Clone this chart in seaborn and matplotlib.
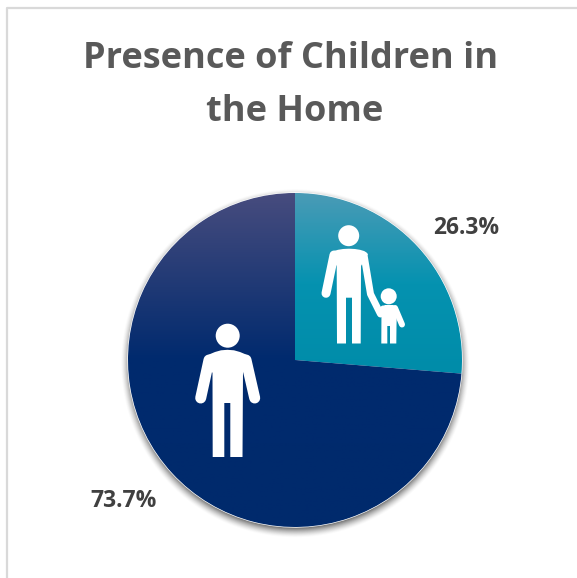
import numpy as np
import matplotlib
matplotlib.use("Agg")
import matplotlib.pyplot as plt
from matplotlib.colors import LinearSegmentedColormap
from matplotlib.patches import Circle, Polygon
from matplotlib.lines import Line2D
import seaborn as sns

# Survey shares, clockwise from twelve o'clock
categories = ["Children in home", "No children in home"]
shares = [26.3, 73.7]
title_lines = ["Presence of Children in", "the Home"]

# Vertical gradient stops for each slice: top, middle, bottom
teal_stops = ["#4a9bb6", "#0592b0", "#008ca9"]
navy_stops = ["#474c7e", "#002a6e", "#002a6c"]

W, H = 577, 578
CX, CY, R = 295, 360, 167
WHITE = "#ffffff"

sns.set_theme(style="white")
plt.rcParams["font.family"] = ["Open Sans", "DejaVu Sans"]

fig = plt.figure(figsize=(W / 100, H / 100), dpi=100, facecolor="white")
ax = fig.add_axes([0, 0, 1, 1])

# Soft drop shadow: a dark disc whose opacity fades over a few pixels
gx, gy = np.meshgrid(np.arange(CX - R - 14, CX + R + 15, 0.5),
                     np.arange(CY - R - 14, CY + R + 20, 0.5))
dist = np.hypot(gx - CX, gy - (CY + 4))
fade = np.clip((R + 7.5 - dist) / 11, 0, 1)
shadow = np.zeros(dist.shape + (4,))
shadow[..., :3] = 0.2
shadow[..., 3] = 0.8 * fade ** 1.5
ax.imshow(shadow, extent=(gx.min(), gx.max(), gy.max(), gy.min()), aspect="auto",
          zorder=1, interpolation="bilinear")

palette = sns.color_palette([teal_stops[1], navy_stops[1]])
wedges, _ = ax.pie(shares, colors=palette, startangle=-90, counterclock=True,
                   center=(CX, CY), radius=R, labels=None, frame=True)

# Fill each wedge with its own top-to-bottom gradient, clipped to the wedge
ramp = np.linspace(0, 1, 256).reshape(-1, 1)
for wedge, stops, (top, bottom) in zip(wedges, [teal_stops, navy_stops],
                                       [(CY - R, CY + 14), (CY - R, CY + R)]):
    cmap = LinearSegmentedColormap.from_list("slice", stops)
    left, right = CX - R - 2, CX + R + 2
    image = ax.imshow(ramp, cmap=cmap, extent=(left, right, bottom, top),
                      aspect="auto", zorder=2, vmin=0, vmax=1)
    image.set_clip_path(wedge)


def limb(points, width):
    xs, ys = zip(*points)
    ax.add_line(Line2D(xs, ys, lw=width * 0.72, color=WHITE,
                       solid_capstyle="round", solid_joinstyle="round", zorder=4))


def block(points):
    ax.add_patch(Polygon(points, closed=True, fc=WHITE, ec="none", zorder=4))


def head(x, y, r):
    ax.add_patch(Circle((x, y), r, fc=WHITE, ec="none", zorder=4))


# Single adult figure on the navy slice
head(227.7, 335.7, 12)
block([(204.5, 358), (209, 354.5), (215, 352), (221, 350.3), (227.5, 349.8),
       (234, 350.3), (240, 352), (246, 354.5), (250.5, 358),
       (243, 373), (242.5, 457), (230.3, 457), (230.3, 403), (224.3, 403),
       (224.3, 457), (212.7, 457), (212.5, 373)])
limb([(209, 360), (200.7, 398)], 11)
limb([(246, 360), (254.7, 398)], 11)

# Adult and child holding hands on the teal slice
head(348.7, 235.7, 10.5)
block([(330, 254), (334, 251), (338, 249.8), (343, 249), (349, 248.7), (355, 249),
       (360, 249.8), (364, 251), (368, 254), (361, 266), (360.7, 343.5),
       (352, 343.5), (352, 297.7), (346, 297.7), (346, 343.5), (337, 343.5),
       (336.7, 266)])
limb([(334, 255), (326, 293.3)], 9)
limb([(364, 255), (370.5, 294), (380.5, 314)], 7)
head(388.7, 296.3, 8)
block([(381.5, 307), (385, 305), (393, 305), (397, 307), (396.5, 326),
       (396.3, 343.5), (390, 343.5), (390, 326), (387.3, 326), (387.3, 343.5),
       (381.3, 343.5)])
limb([(395, 308), (402, 324.5)], 6)
limb([(383, 308), (379, 312)], 5)

# Panel border along the top and left
ax.add_line(Line2D([6.5, 6.5, W], [H, 8, 8], color="#d9d9d9", lw=1.6, zorder=0))

for line, x, baseline in zip(title_lines, [291, 295], [68, 121]):
    ax.text(x, baseline, line, ha="center", va="baseline", fontsize=26,
            fontweight="bold", color="#595959")

for value, (x, y) in zip(shares, [(466, 234), (124, 507)]):
    ax.text(x, y, f"{value:.1f}%", ha="center", va="baseline", fontsize=16.5,
            fontweight="bold", color="#404040")

ax.set_xlim(0, W)
ax.set_ylim(H, 0)
ax.set_aspect("auto")
ax.axis("off")

fig.savefig("out.png", dpi=100)
